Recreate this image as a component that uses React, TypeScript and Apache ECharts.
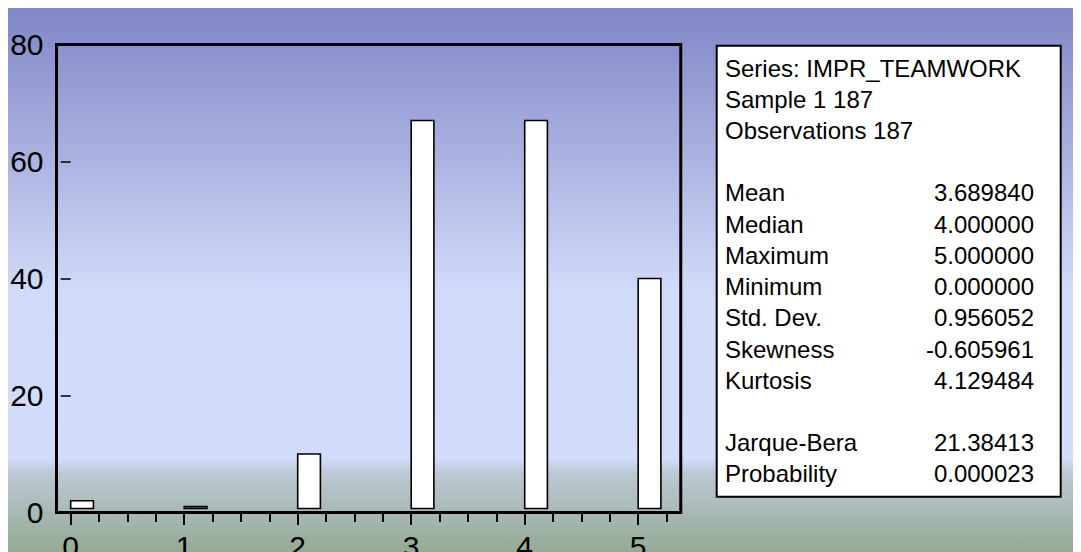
import React, { useEffect, useRef } from "react";
import * as echarts from "echarts";

// ---- data ----
const categories = [0, 1, 2, 3, 4, 5];
const counts = [2, 1, 10, 67, 67, 40];
const yMin = 0;
const yMax = 80;
const yStep = 20;
const headerLines = ["Series: IMPR_TEAMWORK", "Sample 1 187", "Observations 187"];
const statLabels1 = ["Mean", "Median", "Maximum", "Minimum", "Std. Dev.", "Skewness", "Kurtosis"];
const statValues1 = ["3.689840", "4.000000", "5.000000", "0.000000", "0.956052", "-0.605961", "4.129484"];
const statLabels2 = ["Jarque-Bera", "Probability"];
const statValues2 = ["21.38413", "0.000023"];

// ---- layout ----
const W = 1073;
const H = 544;
const X0 = 62.7; // pixel of x = 0
const U = 113.5; // px per x unit
const TOP = 36.5;
const PLOT_H = 468;
const BAR_W = 0.2;
const FONT = "'Liberation Sans', Arial, Helvetica, sans-serif";

export default function App() {
  const ref = useRef<HTMLDivElement>(null);
  useEffect(() => {
    if (!ref.current) return;
    const chart = echarts.init(ref.current, undefined, { renderer: "svg" });

    const rows: ([string, string] | null)[] = [
      ...headerLines.map((t) => [t, ""] as [string, string]),
      null,
      ...statLabels1.map((l, i) => [l, statValues1[i]] as [string, string]),
      null,
      ...statLabels2.map((l, i) => [l, statValues2[i]] as [string, string]),
    ];
    const texts: any[] = [];
    rows.forEach((r, i) => {
      if (!r) return;
      const y = 60 + 31.23 * i;
      texts.push({
        type: "text",
        z: 11,
        silent: true,
        style: { text: r[0], x: 717, y, fill: "#000", fontSize: 24, fontFamily: FONT, textAlign: "left", textVerticalAlign: "middle" },
      });
      if (r[1]) {
        texts.push({
          type: "text",
          z: 11,
          silent: true,
          style: { text: r[1], x: 1026, y, fill: "#000", fontSize: 24, fontFamily: FONT, textAlign: "right", textVerticalAlign: "middle" },
        });
      }
    });

    const gridBase = { top: TOP, height: PLOT_H, outerBoundsMode: "none", containLabel: false };

    const option: any = {
      animation: false,
      graphic: [
        {
          type: "rect",
          z: -100,
          silent: true,
          shape: { x: 0, y: 0, width: W, height: H },
          style: {
            fill: new echarts.graphic.LinearGradient(0, 0, 0, 1, [
              { offset: 0, color: "#8086c6" },
              { offset: 0.52, color: "#d2daf9" },
              { offset: 0.827, color: "#d4dcfc" },
              { offset: 0.855, color: "#bcc8d4" },
              { offset: 1, color: "#94aa94" },
            ]),
          },
        },
        {
          type: "rect",
          z: 10,
          silent: true,
          shape: { x: 708.7, y: 37.7, width: 344, height: 451 },
          style: { fill: "#fff", stroke: "#000", lineWidth: 2 },
        },
        ...texts,
      ],
      grid: [
        { ...gridBase, left: X0 - 0.125 * U, width: 5.5 * U, show: true, borderColor: "#000", borderWidth: 3, backgroundColor: "transparent" },
        { ...gridBase, left: X0, width: 5.25 * U, show: false },
        { ...gridBase, left: X0, width: 5 * U, show: false },
      ],
      xAxis: [
        { gridIndex: 0, type: "value", min: -0.125, max: 5.375, axisLine: { show: false }, axisTick: { show: false }, axisLabel: { show: false }, splitLine: { show: false } },
        {
          gridIndex: 1, type: "value", min: 0, max: 5.25, interval: 0.25,
          axisLine: { show: false }, axisLabel: { show: false }, splitLine: { show: false },
          axisTick: { show: true, length: 9.5, lineStyle: { color: "#000", width: 2 } },
        },
        {
          gridIndex: 2, type: "value", min: 0, max: 5, interval: 1,
          axisLine: { show: false }, splitLine: { show: false },
          axisTick: { show: true, length: 12.5, lineStyle: { color: "#000", width: 2 } },
          axisLabel: { show: true, fontSize: 30, fontFamily: FONT, color: "#000", margin: 19, formatter: (v: number) => String(categories[v] ?? v) },
        },
      ],
      yAxis: [
        {
          gridIndex: 0, type: "value", min: yMin, max: yMax, interval: yStep,
          axisLine: { show: false }, splitLine: { show: false },
          axisTick: { show: true, length: 10, lineStyle: { color: "#000", width: 1.5 } },
          axisLabel: { show: true, fontSize: 30, fontFamily: FONT, color: "#000", margin: 13 },
        },
        { gridIndex: 1, type: "value", show: false, min: 0, max: 1 },
        { gridIndex: 2, type: "value", show: false, min: 0, max: 1 },
      ],
      series: [
        {
          type: "custom",
          xAxisIndex: 0,
          yAxisIndex: 0,
          data: categories.map((c, i) => [c, counts[i]]),
          encode: { x: 0, y: 1 },
          renderItem: (params: any, api: any) => {
            const x = api.value(0);
            const v = api.value(1);
            const p0 = api.coord([x, v]);
            const p1 = api.coord([x + BAR_W, 0]);
            const bottom = p1[1] - 4;
            return {
              type: "rect",
              shape: { x: p0[0], y: p0[1], width: p1[0] - p0[0], height: bottom - p0[1] },
              style: { fill: "#fff", stroke: "#000", lineWidth: 1.6 },
            };
          },
        },
      ],
    };
    chart.setOption(option);
    return () => chart.dispose();
  }, []);
  return <div ref={ref} style={{ width: W, height: H }} />;
}
